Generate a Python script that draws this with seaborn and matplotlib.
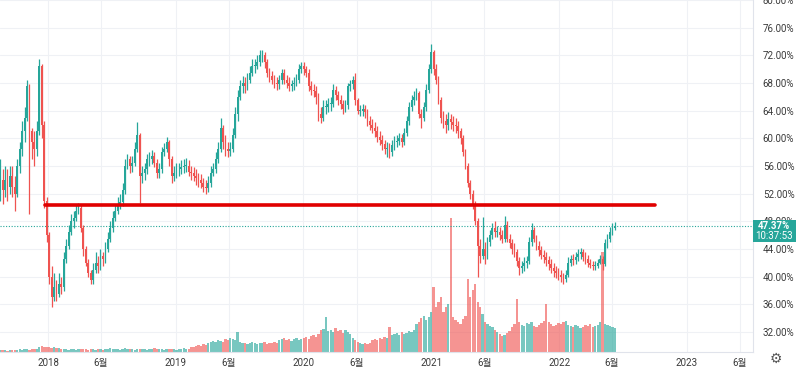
import matplotlib
matplotlib.use("Agg")
import matplotlib.pyplot as plt
import matplotlib.patches as mpatches
import numpy as np
import pandas as pd
import seaborn as sns

sns.set_style("white")
plt.rcParams["font.family"] = ["Roboto", "Noto Sans CJK KR", "DejaVu Sans"]

# ---------------- data (weekly candles, % values) ----------------
start_date = "2017-08-14"
first_open = 53.0

close = [54, 52.5, 54, 53, 54.5, 53, 52, 56, 58.5, 61,
         63, 67.5, 61, 59.5, 58.5, 61, 70.5, 62, 51, 46,
         40, 37, 38.5, 37.5, 39, 38.5, 42.5, 44.5, 46.5, 48,
         48.5, 49.5, 50, 47, 44, 42, 40.5, 39.5, 41, 42,
         41.5, 43, 42.5, 44, 45.5, 47, 48.5, 49.5, 50.5, 50.8,
         52.5, 56, 57, 56, 56.5, 58.5, 60.5, 54.5, 55, 55.5,
         57, 57, 57.5, 56.5, 55, 55.5, 58, 58.5, 59.5, 57,
         54.5, 55, 55.5, 55.5, 55.8, 56, 56, 55.2, 55, 54.5,
         54.2, 54, 53.5, 53, 52.8, 53.5, 55, 55.5, 57, 58.5,
         61.5, 59.5, 58.5, 58.2, 58.5, 60.5, 63.5, 66, 67.5, 68,
         67.5, 68.5, 69.5, 70.5, 70.5, 71, 72, 72, 71, 69.5,
         69, 68.5, 68, 67.8, 68.5, 69.5, 68.5, 68, 67.5, 67.8,
         68, 68.5, 70, 70.5, 70, 69.5, 67.5, 67, 66.8, 66,
         63.5, 63, 64.5, 64.5, 65, 65, 67, 66.2, 65.5, 65,
         64.2, 64.8, 67.5, 67.8, 68.5, 65.5, 64, 64, 64.2, 63.8,
         62.5, 62, 61.5, 61, 60.2, 59.8, 59.2, 58.5, 58.5, 58,
         59, 59.5, 59.6, 60, 59.5, 60.8, 62.5, 64.5, 65.5, 66,
         66.5, 63.5, 63, 64.5, 67, 70, 72.5, 70, 68.5, 65.5,
         63, 62.5, 62, 62.8, 62.3, 62, 61.8, 61, 60, 58,
         56, 53.5, 52, 50.5, 48, 44.5, 43, 44, 43, 45,
         46, 47, 46.5, 46.5, 46, 45.5, 47.5, 45.5, 44.8, 44,
         43.5, 42.2, 41.2, 41.5, 42, 42.3, 45, 46.8, 45.5, 44.5,
         43.8, 43.2, 42.8, 42.4, 41.8, 41.2, 40.8, 40.5, 40.2, 40,
         39.6, 40.3, 42, 42.6, 42.4, 42.9, 43.3, 43.5, 42.9, 42.6,
         42, 41.7, 41.5, 41.6, 42, 42.5, 41.8, 44.8, 45.5, 46.5,
         47, 47.37]

high = [57, 55.5, 56, 55.5, 56, 56, 54.5, 57, 59.5, 62.5,
        64.5, 68.5, 67.8, 61.5, 61, 62.5, 71.5, 70.8, 62.5, 51.5,
        46.5, 41.5, 40.5, 39.5, 40.5, 40, 43.5, 45.5, 47.5, 49,
        49.5, 50.3, 50.6, 50.5, 47.5, 44.5, 42.5, 41, 42, 43.5,
        43, 44, 43.5, 45, 46.5, 48, 49.5, 50.5, 51.5, 52,
        53.5, 57, 57.8, 57.5, 57.5, 59.5, 62.3, 60.8, 56, 56.5,
        57.8, 58, 58.3, 58, 57, 56.5, 58.8, 59.3, 60.2, 59.8,
        57.5, 56, 56.5, 56.5, 56.8, 57, 57.2, 56.8, 56, 55.8,
        55.5, 55, 54.8, 54.3, 54, 54.5, 56, 56.5, 58, 59.5,
        63, 62, 60.5, 59.5, 59.5, 61.5, 64.5, 67, 68.5, 69,
        68.8, 69.5, 70.5, 71.5, 71.5, 72, 72.8, 72.8, 72.5, 71.5,
        70.2, 69.8, 69.2, 68.8, 69.2, 70, 70, 69.2, 68.8, 68.5,
        68.8, 69.3, 70.8, 71, 71, 70.5, 70, 68.3, 67.8, 67.5,
        66.5, 64.5, 65.5, 65.5, 65.8, 66, 67.8, 67.5, 66.8, 66.3,
        65.5, 65.5, 68, 68.5, 69, 69.5, 65.8, 64.8, 65, 64.8,
        64.3, 63.2, 62.8, 62.3, 61.8, 61, 60.5, 59.8, 59.5, 59.3,
        59.8, 60.3, 60.5, 60.8, 60.6, 61.5, 63.3, 65.3, 66.3, 66.8,
        67.3, 66.8, 64.2, 65.2, 67.8, 70.8, 73.6, 72.8, 70.8, 69,
        66, 64, 63.5, 63.8, 63.5, 63.2, 63, 62.5, 61.5, 60.5,
        58.5, 56.5, 54, 52.5, 51, 48.5, 45.5, 48.6, 45, 45.8,
        46.8, 47.8, 48, 47.3, 47.2, 46.8, 48.8, 48, 46.2, 45.5,
        44.8, 44, 42.8, 42.3, 42.8, 43, 45.8, 47.8, 47.2, 46,
        45.2, 44.5, 43.8, 43.5, 43, 42.5, 42, 41.5, 41.2, 41,
        40.6, 41, 42.8, 43.2, 43.3, 43.6, 44, 44.2, 44, 43.5,
        43.2, 42.6, 42.3, 42.2, 42.6, 43.2, 43, 45.5, 46.2, 47.2,
        47.8, 47.9]

low = [51, 50.5, 51.5, 51, 52, 51.5, 49.5, 51.5, 55, 57.5,
       59.5, 62.5, 49, 57, 56, 57.5, 60.5, 60, 50, 45,
       39, 35.6, 36.5, 36.5, 37, 37.5, 38, 42, 44, 46,
       47, 48, 49, 46.5, 43, 41.5, 40, 39, 39, 40.5,
       40.5, 41, 41.5, 42, 43.5, 45, 46.5, 48, 49, 49.8,
       50.2, 52, 55.5, 55, 55.2, 56, 58, 50.7, 53.5, 54,
       54.8, 56, 56.3, 55.8, 54.3, 54.2, 55, 57.5, 58, 56,
       53.5, 53.8, 54.3, 54.5, 54.8, 55, 55.2, 54.5, 54, 53.8,
       53.2, 53, 52.8, 52.3, 52, 52.3, 53, 54.5, 55, 56.5,
       58, 58.5, 57.5, 57.3, 57.5, 58, 60, 62.5, 65.5, 66.5,
       66.5, 67, 68, 69, 69.5, 70, 70.5, 71, 70.2, 68.8,
       68.2, 67.8, 67.3, 67, 67.2, 67.8, 67.8, 67.3, 66.8, 66.8,
       67, 67.5, 68, 69.5, 69.2, 68.8, 66.8, 66.2, 66, 65,
       62.5, 62.2, 62.5, 63.5, 63.8, 64, 64.5, 65.5, 64.8, 64.2,
       63.5, 63.8, 64.3, 66.8, 67.2, 64.8, 63.5, 63.2, 63.3, 63,
       61.8, 61.2, 60.8, 60.2, 59.5, 59, 58.3, 57.8, 57.3, 57.2,
       57.5, 58.3, 58.8, 59, 58.8, 59, 60.3, 62, 64, 64.8,
       65.5, 63, 61.5, 62.5, 64, 66.5, 69.5, 69.2, 67.8, 65,
       62.2, 61.5, 60.8, 61.2, 61.3, 61, 60.8, 60, 59.2, 57.5,
       55.5, 53, 51.3, 49.8, 47.5, 40, 42, 42.5, 41.8, 42.5,
       44.5, 45.5, 45.8, 45.7, 45.3, 44.8, 45, 45, 44.2, 43.3,
       42.8, 41.5, 40.3, 40.5, 40.8, 41.3, 41.8, 44.5, 45, 43.8,
       43, 42.5, 42, 41.6, 41, 40.5, 40, 39.8, 39.5, 39.3,
       39, 39.2, 40, 41.5, 41.7, 41.9, 42.3, 42.6, 42.2, 41.9,
       41.4, 41.2, 40.9, 41, 41.2, 41.8, 41, 41.5, 44.2, 45,
       46, 46.8]

volume = [2, 2, 2, 1, 2, 2, 2, 2, 3, 2, 3, 3, 2, 3, 3, 3,
          5, 6, 5, 5, 5, 4, 5, 4, 4,
          3, 3, 3, 2, 3, 3, 2, 3, 3, 3, 3, 2,
          3, 3, 2, 3, 3, 2, 3, 3, 4, 3, 3, 3, 2, 3, 4, 3, 3, 3, 2, 3,
          3, 3, 3, 2, 3, 3, 4, 3, 3, 3, 2, 3, 3, 3, 3, 2, 3, 3, 4, 3, 3,
          5, 5, 6, 7, 6, 8, 7, 9,
          10, 11, 10, 12, 11, 10,
          13, 12, 14, 13, 12, 20,
          10, 9, 9, 8, 9, 10, 9, 8, 9, 9, 10, 8, 9, 9, 10, 9,
          12, 13, 14, 12, 13, 11, 13, 14, 12, 13, 14, 15, 13,
          16, 17, 15, 18,
          22, 23, 35, 21, 22, 20, 24, 21, 22, 19,
          22, 20, 18,
          14, 12, 10, 9, 8, 9, 8, 9,
          12, 13, 12, 14, 13, 15, 14, 25,
          17, 18, 19, 17, 20, 18, 19, 21, 20, 22,
          28, 30, 34, 36, 32, 35, 40,
          65,
          45, 50, 55, 40, 45, 48, 134,
          35, 32, 30, 28, 33, 36,
          73, 55, 62, 68, 50, 45, 38,
          30, 28, 26, 25, 22, 20, 18,
          16, 17, 19, 21,
          25, 28, 53, 30, 27, 26, 29, 28, 30, 26,
          25, 27, 29, 31, 48, 30, 28, 26, 27, 29,
          28, 30, 31, 27, 26, 25, 27, 26, 24, 25,
          27, 26, 28, 25, 26, 27, 30, 100, 28, 27,
          26, 25, 24]

level_value = 50.4
level_start, level_end = "2017-12-23", "2022-10-01"
last_price = 47.37
last_label = "47.37%"
last_time = "10:37:53"

price_ticks = [32, 36, 40, 44, 48, 52, 56, 60, 64, 68, 72, 76, 80]
time_ticks = ["2018-01-01", "2018-06-01", "2019-01-01", "2019-06-01", "2020-01-01",
              "2020-06-01", "2021-01-01", "2021-06-01", "2022-01-01", "2022-06-01",
              "2023-01-01", "2023-06-01"]
time_labels = ["2018", "6월", "2019", "6월", "2020", "6월", "2021", "6월", "2022", "6월",
               "2023", "6월"]

# ---------------- build frame ----------------
dates = pd.date_range(start_date, periods=len(close), freq="7D") + pd.Timedelta(days=3)
df = pd.DataFrame({"date": dates, "close": close, "high": high, "low": low, "volume": volume})
df["open"] = [first_open] + close[:-1]
df["up"] = df["close"] >= df["open"]

UP, DOWN = "#26a69a", "#ef5350"
colors = np.where(df["up"], UP, DOWN)

W, H = 800, 370
fig = plt.figure(figsize=(8, 3.7), dpi=100)
fig.patch.set_facecolor("white")
pos = [0, 18 / H, 753 / W, 352 / H]

axv = fig.add_axes(pos)
ax = fig.add_axes(pos, sharex=axv)
ax.patch.set_alpha(0)

# grid (behind everything)
axv.set_ylim(0, 352)
for t in time_ticks:
    axv.axvline(pd.Timestamp(t), color="#eff1f5", lw=0.8, zorder=0)
for t in price_ticks:
    axv.axhline(332 - (32 - t) * -6.917 if False else (t - (32 - 20 / 6.917)) * 6.917,
                color="#eff1f5", lw=0.8, zorder=0)

# volume
axv.bar(df["date"], df["volume"], width=6.6, color=colors, alpha=0.62, linewidth=0, zorder=1)
axv.set_yticks([])
for s in axv.spines.values():
    s.set_visible(False)
axv.tick_params(axis="x", length=0, labelbottom=False)

# candles
ax.vlines(df["date"], df["low"], df["high"], colors=colors, lw=0.9, zorder=2)
body_bottom = np.minimum(df["open"], df["close"])
body_h = np.maximum(np.abs(df["close"] - df["open"]), 0.12)
ax.bar(df["date"], body_h, bottom=body_bottom, width=5.0, color=colors, linewidth=0, zorder=3)

# current price dotted line
ax.axhline(last_price, color=UP, lw=0.8, ls=(0, (1, 1.5)), zorder=1)

# red horizontal level
lvl = pd.DataFrame({"d": pd.to_datetime([level_start, level_end]), "v": [level_value, level_value]})
sns.lineplot(data=lvl, x="d", y="v", color="#e00000", lw=2.6, ax=ax, zorder=4)

# limits
base = pd.Timestamp("2018-01-01")
ax.set_xlim(base - pd.Timedelta(days=137.2), base + pd.Timedelta(days=2014.9))
ax.set_ylim(32 - 20 / 6.917, 80.0)

ax.set_xlabel("")
ax.set_ylabel("")
ax.yaxis.tick_right()
ax.set_yticks(price_ticks)
ax.set_yticklabels([f"{t:.2f}%" for t in price_ticks])
ax.set_xticks(pd.to_datetime(time_ticks))
ax.set_xticklabels(time_labels)
ax.tick_params(axis="y", length=0, pad=7, labelsize=7, labelcolor="#3a3a3a")
ax.tick_params(axis="x", length=0, pad=4, labelsize=7, labelcolor="#3a3a3a")
for name, s in ax.spines.items():
    if name in ("right", "bottom"):
        s.set_color("#e0e3eb")
        s.set_linewidth(0.8)
    else:
        s.set_visible(False)

# last price label box (covers the 48.00% tick label as in the reference)
fig.patches.append(mpatches.Rectangle((753 / W, 1 - 242 / H), 43 / W, 22 / H,
                                      transform=fig.transFigure, facecolor=UP,
                                      edgecolor="none", zorder=5))
fig.text(774 / W, 1 - 226 / H, last_label, color="white", fontsize=7, ha="center",
         va="center", zorder=6, fontweight="bold")
fig.text(774 / W, 1 - 236 / H, last_time, color="white", fontsize=7, ha="center",
         va="center", zorder=6)

# gear icon
fig.text(776 / W, 1 - 359 / H, "\u2699", family=["DejaVu Sans"], fontsize=10,
         color="#555555", ha="center", va="center")

fig.savefig("out.png", dpi=100)
